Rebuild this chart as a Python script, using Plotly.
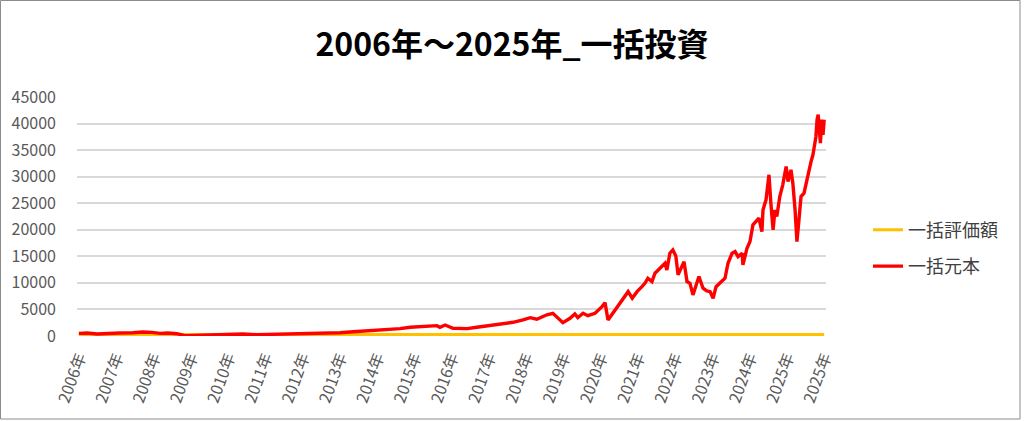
import plotly.graph_objects as go

# ---- data ----
tick_labels = ["2006年", "2007年", "2008年", "2009年", "2010年", "2011年", "2012年",
               "2013年", "2014年", "2015年", "2016年", "2017年", "2018年", "2019年",
               "2020年", "2021年", "2022年", "2023年", "2024年", "2025年", "2025年"]

# position along the time axis, in units of label intervals
t_pos = [0.00, 0.22, 0.49, 0.75, 1.10, 1.45, 1.72, 1.96, 2.18, 2.39, 2.63, 2.85,
         3.17, 3.52, 4.05, 4.40, 4.78, 5.13, 5.48, 5.85, 6.20, 6.55, 7.01, 7.36,
         7.81, 8.27, 8.62, 8.89, 9.15, 9.42, 9.61, 9.69, 9.83, 10.04, 10.42, 10.68,
         10.95, 11.30, 11.65, 11.92, 12.11, 12.29, 12.56, 12.72, 12.86, 12.99, 13.18,
         13.31, 13.39, 13.53, 13.66, 13.85, 14.04, 14.12, 14.20, 14.33, 14.52, 14.66,
         14.74, 14.85, 14.98, 15.11, 15.19, 15.27, 15.38, 15.46, 15.60, 15.73, 15.78,
         15.86, 15.94, 16.02, 16.08, 16.18, 16.24, 16.32, 16.40, 16.48, 16.53, 16.64,
         16.75, 16.85, 16.94, 17.02, 17.10, 17.21, 17.34, 17.42, 17.53, 17.61, 17.69,
         17.80, 17.82, 17.93, 18.01, 18.09, 18.20, 18.25, 18.33, 18.36, 18.44, 18.52,
         18.57, 18.63, 18.68, 18.73, 18.81, 18.89, 18.98, 19.03, 19.11, 19.16, 19.22,
         19.27, 19.32, 19.38, 19.46, 19.54, 19.65, 19.70, 19.78, 19.81, 19.84, 19.90,
         19.94, 19.97, 20.00]

principal = [500, 560, 380, 500, 560, 620, 750, 690, 500, 560, 430, 60,
             100, 130, 250, 380, 250, 320, 250, 320, 430, 500, 620, 800,
             1000, 1130, 1380, 1640, 1760, 1890, 1950, 1640, 2070, 1450, 1380, 1640,
             1890, 2260, 2580, 3020, 3450, 3150, 4000, 4280, 3340, 2510, 3340,
             4150, 3450, 4280, 3830, 4280, 5530, 6280, 3020, 4280, 6160, 7410,
             8350, 7110, 8350, 9290, 9930, 10880, 10240, 11820, 12760, 13700, 12440,
             15590, 16210, 15080, 11500, 13060, 14000, 10240, 9930, 7730, 8990, 11200,
             9000, 8500, 8350, 7110, 9290, 9930, 10880, 13700, 15590, 15900, 14950,
             15590, 13380, 16530, 17780, 20920, 21870, 22190, 19660, 23750, 25640, 30350,
             25010, 19980, 23750, 22490, 26260, 28460, 31910, 29090, 31290, 28780, 23750,
             17780, 21550, 26260, 26900, 29730, 32860, 34120, 37570, 40720, 41660, 36320,
             40720, 37890, 40720]

valuation_level = 300
valuation_t = [0.00, 20.00]
valuation = [valuation_level, valuation_level]

y_ticks = [0, 5000, 10000, 15000, 20000, 25000, 30000, 35000, 40000, 45000]

FONT = "Noto Sans CJK JP"

fig = go.Figure()
fig.add_trace(go.Scatter(x=valuation_t, y=valuation, mode="lines", name="一括評価額",
                         line=dict(color="#FFC000", width=3), legendgroup="a"))
fig.add_trace(go.Scatter(x=t_pos, y=principal, mode="lines", name="一括元本",
                         line=dict(color="#FF0000", width=3.4), legendgroup="b"))

L, R, T, B = 77, 198, 97, 85
W, H = 1024, 421
pw, ph = W - L - R, H - T - B

fig.update_layout(
    width=W, height=H,
    margin=dict(l=L, r=R, t=T, b=B),
    paper_bgcolor="white", plot_bgcolor="white",
    font=dict(family=FONT, color="#595959", size=16),
    title=dict(text="<b>2006年～2025年_一括投資</b>", x=0.5, xref="container", xanchor="center",
               y=1 - 45 / H, yanchor="middle", yref="container",
               font=dict(family=FONT, size=32, color="#000000")),
    showlegend=True,
    legend=dict(x=(868 - L) / pw, xanchor="left", y=(336 - 248) / ph, yanchor="middle",
                font=dict(family=FONT, size=18, color="#404040"),
                tracegroupgap=10, bgcolor="rgba(0,0,0,0)"),
    xaxis=dict(range=[-0.05, 20.05], tickmode="array", tickvals=list(range(len(tick_labels))),
               ticktext=tick_labels, tickangle=-70, showgrid=False, zeroline=False,
               showline=False, ticks="", tickfont=dict(size=16, color="#595959"),
               ticklabelstandoff=8),
    yaxis=dict(range=[0, 45000], tickvals=y_ticks, tickformat="d", showgrid=True,
               gridcolor="#D9D9D9", gridwidth=1.5, zeroline=False, showline=False, ticks="",
               tickfont=dict(size=16, color="#595959"), ticklabelstandoff=20),
)

# outer chart border
fig.add_shape(type="rect", xref="paper", yref="paper",
              x0=(0.5 - L) / pw, x1=(1020 - L) / pw,
              y0=(336 - 419) / ph, y1=(336 - 0.5) / ph,
              line=dict(color="#8C8C8C", width=1), fillcolor="rgba(0,0,0,0)", layer="below")

fig.write_html("out.html", config={"displayModeBar": False},
               post_script="document.body.style.margin='0';document.body.style.overflow='hidden';")
